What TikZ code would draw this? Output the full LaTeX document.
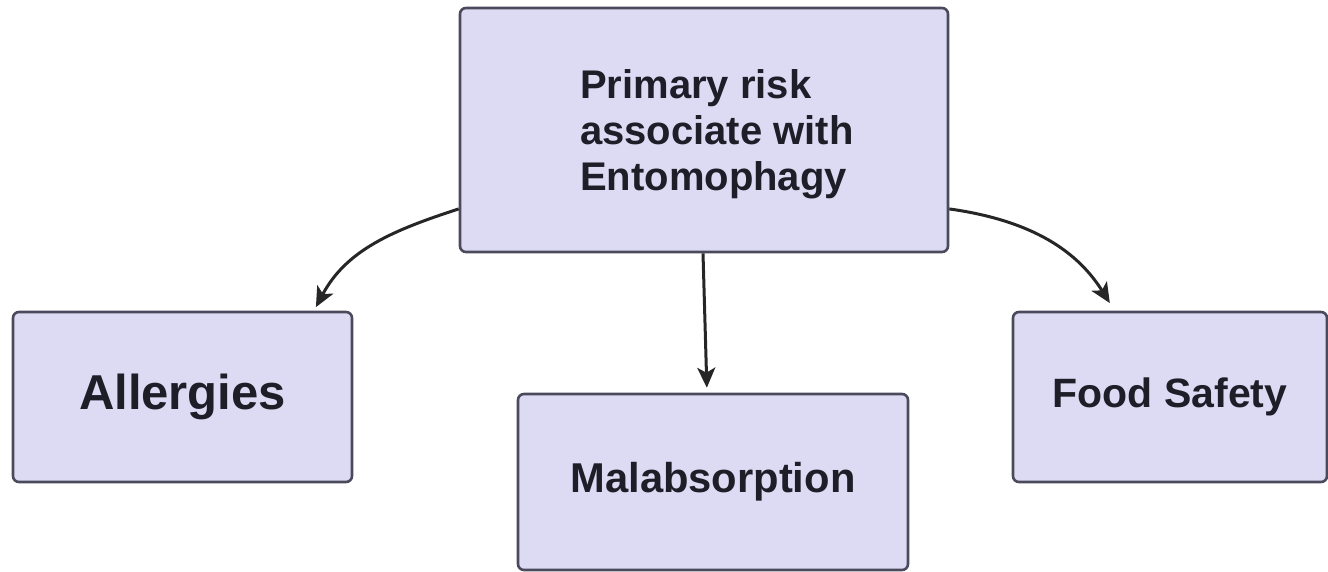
\documentclass[tikz,border=0pt]{standalone}
\usepackage{fontspec}
\setmainfont{Liberation Sans}
\usetikzlibrary{arrows.meta,calc}
\definecolor{boxfill}{HTML}{DDDBF4}
\definecolor{boxline}{HTML}{4A4A5C}
\definecolor{txt}{HTML}{1E1E28}
\definecolor{arr}{HTML}{262626}
\tikzset{
  riskbox/.style={draw=boxline, fill=boxfill, line width=2.6pt, rounded corners=6pt, inner sep=0pt},
  risktext/.style={text=txt, font=\bfseries, inner sep=0pt},
  riskarrow/.style={draw=arr, line width=3pt, -{Stealth[length=20pt,width=18pt,inset=5pt]}}
}
\begin{document}
\begin{tikzpicture}[x=1pt,y=1pt]
\useasboundingbox (0,0) rectangle (1328,-571);
% boxes
\node[riskbox, minimum width=488pt, minimum height=244pt] (top) at (704,-130) {};
\node[risktext, align=left, anchor=base west, font=\bfseries\fontsize{40}{46}\selectfont] (toptext) at (580,-190) {Primary risk\\associate with\\Entomophagy};
\node[riskbox, minimum width=339pt, minimum height=170pt, font=\bfseries\fontsize{49}{55}\selectfont, text=txt] (allergies) at (182.5,-397) {Allergies};
\node[riskbox, minimum width=390pt, minimum height=176pt, font=\bfseries\fontsize{41.7}{48}\selectfont, text=txt] (mal) at (713,-482) {Malabsorption};
\node[riskbox, minimum width=314pt, minimum height=170pt, font=\bfseries\fontsize{41}{48}\selectfont, text=txt] (food) at (1170,-397) {Food Safety};
% connectors
\coordinate (lstart) at ($(top.north west)!0.82!(top.south west)$);
\coordinate (rstart) at ($(top.north east)!0.82!(top.south east)$);
\coordinate (lend) at ($(allergies.north west)!0.885!(allergies.north east)$);
\coordinate (rend) at ($(food.north west)!0.325!(food.north east)$);
\draw[riskarrow, shorten >=4pt] (lstart) to[out=198, in=62] (lend);
\draw[riskarrow, shorten >=9pt] (rstart) to[out=-8, in=122] (rend);
\draw[riskarrow, shorten >=5pt] ($(top.south)+(-1,0)$) -- ($(mal.north)+(-6,0)$);
\end{tikzpicture}
\end{document}
